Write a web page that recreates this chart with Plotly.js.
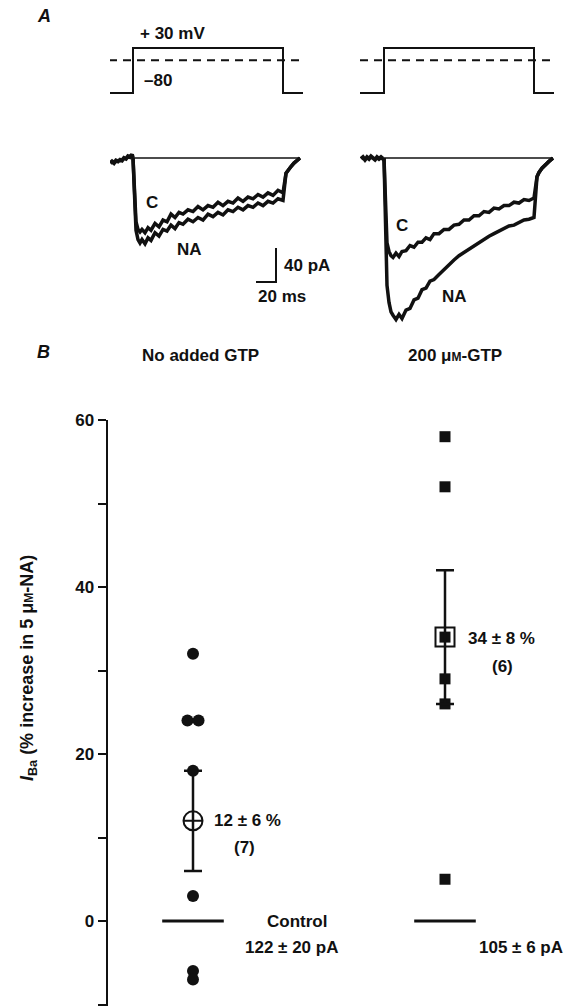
<!DOCTYPE html>
<html>
<head>
<meta charset="utf-8">
<script src="https://cdn.plot.ly/plotly-3.0.1.min.js"></script>
<style>
  html, body { margin: 0; padding: 0; background: #fff; }
  #chart { width: 573px; height: 1006px; }
</style>
</head>
<body>
<div id="chart"></div>
<script>
// ---------------- DATA ----------------
// Panel B: % increase of I_Ba in 5 uM noradrenaline
const groups = ['No added GTP', '200 \u03bcM-GTP'];
const controlValues = [32, 24, 24, 18, 3, -6, -7];
const controlJitter = [0, -0.022, 0.022, 0, 0, 0, 0];
const gtpValues = [58, 52, 34, 29, 26, 5];
const gtpJitter = [0, 0, 0, 0, 0, 0];
const groupMeans = [12, 34];
const groupErrors = [6, 8];
const groupN = ['(7)', '(6)'];
const meanText = ['12 \u00b1 6 %', '34 \u00b1 8 %'];
const baselineValues = [0, 0];
const baselineText = ['122 \u00b1 20 pA', '105 \u00b1 6 pA'];
const yTickVals = [0, 20, 40, 60];
const yTickText = ['0', '20', '40', '60'];
const yMinorTicks = [-10, 10, 30, 50];

// Panel A: voltage protocol (ms, mV)
const protocolT = [-24, 0, 0, 150, 150, 170];
const protocolV = [-80, -80, 30, 30, -80, -80];
const zeroMvT = [-24, 170];
const zeroMvV = [0, 0];

// Panel A: Ba currents (ms, pA)
const traceT = [0,1,2,3,5,7,9,12,15,18,22,26,30,34,38,42,46,50,55,60,65,70,75,80,85,90,95,100,105,110,115,120,125,130,135,140,145,150];
const leftC  = [0,-30,-60,-75,-84,-87,-84,-88,-82,-85,-77,-81,-73,-75,-66,-70,-64,-66,-61,-63,-57,-61,-56,-58,-52,-56,-51,-53,-47,-51,-46,-48,-43,-46,-41,-44,-38,-41];
const leftNA = [0,-35,-68,-85,-96,-100,-96,-101,-94,-97,-88,-92,-84,-86,-79,-83,-76,-78,-72,-75,-70,-73,-66,-69,-64,-67,-61,-63,-58,-61,-56,-58,-53,-56,-51,-53,-48,-50];
const rightC  = [0,-40,-80,-100,-110,-115,-117,-112,-116,-110,-109,-103,-105,-99,-99,-94,-96,-89,-89,-84,-84,-79,-78,-73,-73,-68,-68,-63,-64,-59,-60,-56,-56,-52,-53,-49,-50,-47];
const rightNA = [0,-60,-120,-150,-170,-181,-185,-190,-184,-189,-179,-177,-167,-165,-155,-153,-145,-143,-137,-131,-125,-120,-115,-111,-107,-103,-99,-96,-92,-89,-86,-83,-80,-79,-76,-73,-72,-70];
const leftTailT  = [153,155,158,161,164,167];
const leftTailI  = [-18,-14,-10,-6,-3,0];
const rightTailT = [153,155,158,161,165,169];
const rightTailI = [-22,-17,-12,-8,-4,0];
const holdT = [-23,-21,-19,-17,-15,-13,-11,-9,-7,-5,-3,-1,0];
const leftHoldI  = [-6,-4,-6,-3,-4,-2,-3,0,-1,2,1,4,0];
const rightHoldI = [-1,1,-2,1,-1,2,0,-2,1,-1,1,-1,0];
const leftZeroT = [0, 167];
const rightZeroT = [0, 169];
const zeroI = [0, 0];
const scaleBarMs = 20;
const scaleBarPA = 40;

// ---------------- LAYOUT HELPERS ----------------
const W = 573, H = 1006;
const px = x => x / W;
const py = y => 1 - y / H;
const FONT = 'Liberation Sans, Arial, Helvetica, sans-serif';
const INK = '#111111';
const mk = (o) => Object.assign({hoverinfo: 'skip', showlegend: false}, o);

const scaleOrigin = {t: 143, i: -146};

const traces = [
  // voltage protocol
  mk({x: protocolT, y: protocolV, xaxis: 'x2', yaxis: 'y2', mode: 'lines', line: {color: INK, width: 2}}),
  mk({x: zeroMvT, y: zeroMvV, xaxis: 'x2', yaxis: 'y2', mode: 'lines', line: {color: INK, width: 2, dash: '8px,6px'}}),
  mk({x: protocolT, y: protocolV, xaxis: 'x3', yaxis: 'y2', mode: 'lines', line: {color: INK, width: 2}}),
  mk({x: zeroMvT, y: zeroMvV, xaxis: 'x3', yaxis: 'y2', mode: 'lines', line: {color: INK, width: 2, dash: '8px,6px'}}),
  // left currents
  mk({x: leftZeroT, y: zeroI, xaxis: 'x2', yaxis: 'y3', mode: 'lines', line: {color: INK, width: 1.5}}),
  mk({x: holdT, y: leftHoldI, xaxis: 'x2', yaxis: 'y3', mode: 'lines', line: {color: INK, width: 4}}),
  mk({x: traceT.concat(leftTailT), y: leftC.concat(leftTailI), xaxis: 'x2', yaxis: 'y3', mode: 'lines', line: {color: INK, width: 3.5}}),
  mk({x: traceT.concat(leftTailT), y: leftNA.concat(leftTailI), xaxis: 'x2', yaxis: 'y3', mode: 'lines', line: {color: INK, width: 3.5}}),
  // right currents
  mk({x: rightZeroT, y: zeroI, xaxis: 'x3', yaxis: 'y3', mode: 'lines', line: {color: INK, width: 1.5}}),
  mk({x: holdT, y: rightHoldI, xaxis: 'x3', yaxis: 'y3', mode: 'lines', line: {color: INK, width: 4}}),
  mk({x: traceT.concat(rightTailT), y: rightC.concat(rightTailI), xaxis: 'x3', yaxis: 'y3', mode: 'lines', line: {color: INK, width: 3.5}}),
  mk({x: traceT.concat(rightTailT), y: rightNA.concat(rightTailI), xaxis: 'x3', yaxis: 'y3', mode: 'lines', line: {color: INK, width: 3.5}}),
  // scale bar
  mk({x: [scaleOrigin.t - scaleBarMs, scaleOrigin.t, scaleOrigin.t],
      y: [scaleOrigin.i, scaleOrigin.i, scaleOrigin.i + scaleBarPA],
      xaxis: 'x2', yaxis: 'y3', mode: 'lines', line: {color: INK, width: 2}}),
  // panel B: baselines
  mk({x: [0, 1], y: baselineValues, mode: 'markers',
      marker: {symbol: 'line-ew-open', size: 44, color: INK, line: {color: INK, width: 3}}}),
  // control points
  mk({x: controlJitter.map(j => 0 + j), y: controlValues, mode: 'markers',
      marker: {symbol: 'circle', size: 12, color: INK}}),
  // GTP points
  mk({x: gtpJitter.map(j => 1 + j), y: gtpValues, mode: 'markers',
      marker: {symbol: 'square', size: 11, color: INK}}),
  // means with error bars
  mk({x: [0, 1], y: groupMeans, mode: 'markers',
      error_y: {type: 'data', array: groupErrors, visible: true, color: INK, thickness: 2.5, width: 9},
      marker: {symbol: ['circle-cross-open', 'square-open'], size: 19, color: INK, line: {color: INK, width: 2}}})
];

const ann = (text, x, y, opts) => Object.assign({
  text: text, x: px(x), y: py(y), xref: 'paper', yref: 'paper',
  showarrow: false, xanchor: 'left', yanchor: 'middle',
  font: {family: FONT, size: 17, color: INK, weight: 'bold'}
}, opts || {});

const smallM = "<span style='font-size:12px'>M</span>";
const italicFont = {family: FONT, size: 18, color: INK, weight: 'bold', style: 'italic'};

const annotations = [
  ann('A', 35, 16, {font: italicFont}),
  ann('+ 30 mV', 138, 33),
  ann('\u201380', 142, 81),
  ann('C', 152, 202, {xanchor: 'center'}),
  ann('NA', 189, 249, {xanchor: 'center'}),
  ann('C', 402, 225, {xanchor: 'center'}),
  ann('NA', 454, 296, {xanchor: 'center'}),
  ann('40 pA', 282, 265),
  ann('20 ms', 256, 297),
  ann('B', 35, 352, {font: italicFont}),
  ann(groups[0], 200, 355, {xanchor: 'center'}),
  ann('200 \u03bc' + smallM + '-GTP', 455, 355, {xanchor: 'center'}),
  ann('<i>I</i><sub>Ba</sub> (% increase in 5 \u03bc' + smallM + '-NA)', 28, 668,
      {xanchor: 'center', textangle: -90,
       font: {family: FONT, size: 18, color: INK, weight: 'bold'}}),
  ann(meanText[0], 212, 820),
  ann(groupN[0], 232, 847),
  ann(meanText[1], 466, 638),
  ann(groupN[1], 490, 666),
  ann('Control', 265, 921),
  ann(baselineText[0], 243, 947),
  ann(baselineText[1], 477, 947)
];

const ctrlPx = 193, gtpPx = 445, axisPx = 108;
const unitPx = gtpPx - ctrlPx;
const yZeroPx = 921, ySixtyPx = 420, pxPerUnit = (yZeroPx - ySixtyPx) / 60;

const layout = {
  width: W, height: H,
  margin: {l: 0, r: 0, t: 0, b: 0},
  paper_bgcolor: '#ffffff', plot_bgcolor: 'rgba(0,0,0,0)',
  font: {family: FONT, color: INK},
  showlegend: false,
  xaxis: {
    domain: [px(axisPx), 1],
    range: [(axisPx - ctrlPx) / unitPx, (W - ctrlPx) / unitPx],
    visible: false, anchor: 'y', fixedrange: true
  },
  yaxis: {
    domain: [0, py(ySixtyPx)],
    range: [60 - (H - ySixtyPx) / pxPerUnit, 60],
    anchor: 'x', showline: true, linewidth: 2.5, linecolor: INK,
    ticks: 'outside', ticklen: 8, tickwidth: 2, tickcolor: INK,
    tickvals: yTickVals, ticktext: yTickText.map(t => '<b>' + t + '</b>'),
    minor: {tickvals: yMinorTicks, ticks: 'outside', ticklen: 8, tickwidth: 2, tickcolor: INK, showgrid: false},
    tickfont: {family: FONT, size: 17, color: INK},
    showgrid: false, zeroline: false, fixedrange: true
  },
  xaxis2: {domain: [px(110), px(303)], range: [-23, 170], visible: false, anchor: 'y2'},
  xaxis3: {domain: [px(360), px(554)], range: [-24, 170], visible: false, anchor: 'y2'},
  yaxis2: {domain: [py(100), py(40)], range: [-97.1, 49.6], visible: false, anchor: 'x2'},
  yaxis3: {domain: [py(330), py(145)], range: [-202.4, 15.3], visible: false, anchor: 'x2'},
  annotations: annotations
};

Plotly.newPlot('chart', traces, layout, {displayModeBar: false, staticPlot: true});
</script>
</body>
</html>
